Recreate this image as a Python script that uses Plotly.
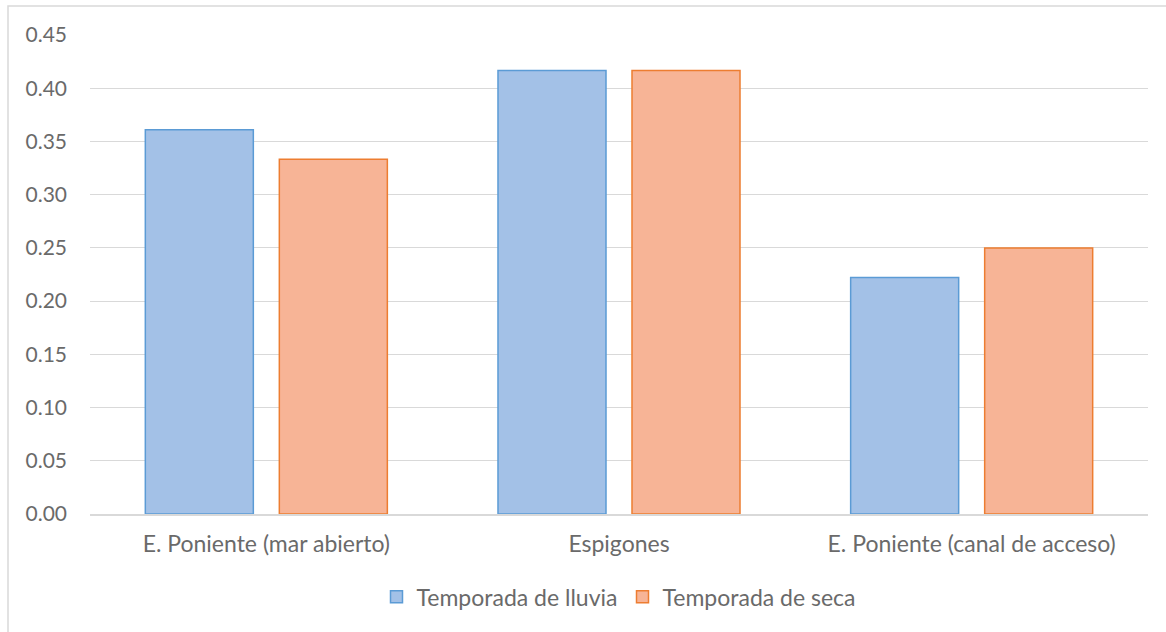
import plotly.graph_objects as go

categories = ["E. Poniente (mar abierto)", "Espigones", "E. Poniente (canal de acceso)"]
lluvia = [0.3611, 0.4167, 0.2222]
seca = [0.3333, 0.4167, 0.2500]
y_ticks = [0.00, 0.05, 0.10, 0.15, 0.20, 0.25, 0.30, 0.35, 0.40, 0.45]

FONT = "Lato"
GREY = "#6A6A6A"

fig = go.Figure()
fig.add_trace(go.Bar(
    name="Temporada de lluvia", x=categories, y=lluvia,
    marker=dict(color="#A3C1E7", line=dict(color="#5B9BD5", width=1.5)),
))
fig.add_trace(go.Bar(
    name="Temporada de seca", x=categories, y=seca,
    marker=dict(color="#F7B496", line=dict(color="#ED7D31", width=1.5)),
))

fig.update_layout(
    width=1166, height=632,
    margin=dict(l=90, r=18, t=35, b=118),
    paper_bgcolor="white", plot_bgcolor="white",
    barmode="group", bargap=0.24, bargroupgap=0.194,
    font=dict(family=FONT, size=21, color=GREY),
    showlegend=True,
    legend=dict(orientation="h", x=0.5, xanchor="center", y=-0.128, yanchor="top",
                font=dict(family=FONT, size=23, color=GREY),
                itemwidth=30, traceorder="normal"),
    xaxis=dict(showline=True, linecolor="#D9D9D9", linewidth=1.5,
               ticks="", ticklabelstandoff=9,
               tickfont=dict(size=23, color=GREY)),
    yaxis=dict(range=[0, 0.45], tickvals=y_ticks,
               ticktext=[f"{v:.2f}" for v in y_ticks],
               showgrid=True, gridcolor="#D9D9D9", gridwidth=1.2,
               zeroline=False, showline=False, ticks="",
               ticklabelstandoff=22,
               tickfont=dict(size=21, color=GREY)),
    shapes=[dict(type="rect", xref="paper", yref="paper",
                 x0=-82 / 1058, x1=(1166 - 90) / 1058 + 0.01,
                 y0=-(118 + 20) / 479, y1=1 + 29 / 479,
                 line=dict(color="#D9D9D9", width=1.5), fillcolor="rgba(0,0,0,0)",
                 layer="below")],
)

fig.write_html("out.html")
